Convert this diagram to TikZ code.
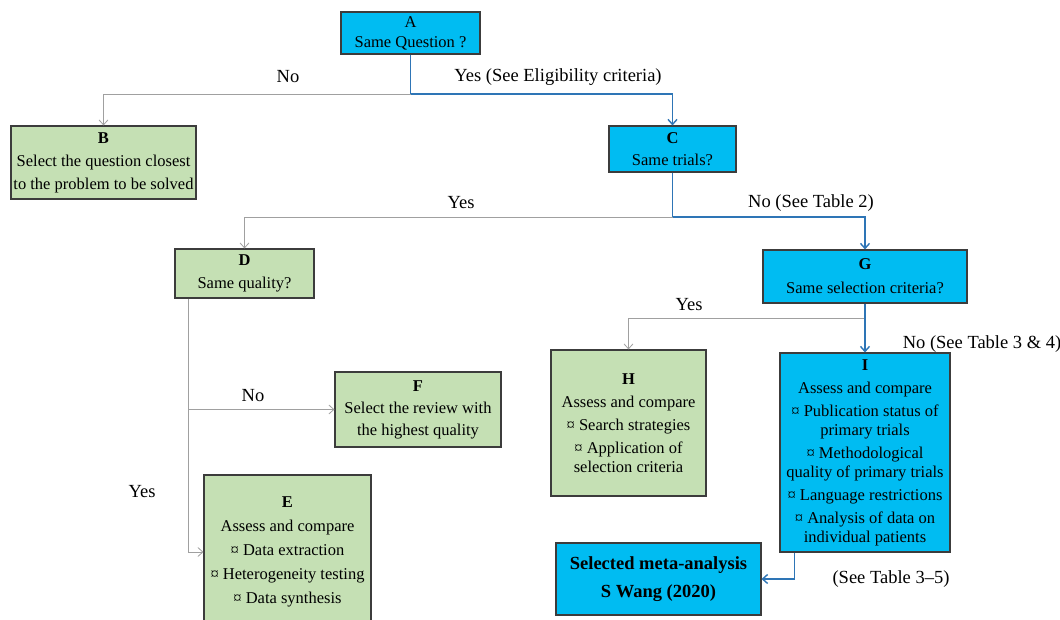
\documentclass[tikz,border=0pt]{standalone}
\usepackage{fontspec}
\setmainfont{Liberation Serif}
\usetikzlibrary{arrows.meta}
\definecolor{boxblue}{RGB}{0,188,242}
\definecolor{boxgreen}{RGB}{197,224,180}
\definecolor{lineblue}{RGB}{46,117,182}
\definecolor{linegray}{RGB}{160,160,160}
\definecolor{edgegray}{RGB}{60,60,60}
\begin{document}
\begin{tikzpicture}[x=1pt,y=-1pt,
  box/.style={draw=edgegray,line width=1.1pt,rectangle,inner sep=0pt,align=center,
    font=\fontsize{16.5}{19}\selectfont},
  bluebox/.style={box,fill=boxblue},
  greenbox/.style={box,fill=boxgreen},
  bline/.style={draw=lineblue,line width=1.7pt},
  gline/.style={draw=linegray,line width=0.9pt},
  barrow/.style={bline,-{Straight Barb[length=5pt,width=9pt,line width=1.4pt]}},
  garrow/.style={gline,-{Straight Barb[length=5pt,width=9pt,line width=0.8pt]}},
  lbl/.style={font=\fontsize{18.5}{22}\selectfont,inner sep=0pt}]
\useasboundingbox (0,0) rectangle (1060,619);
% boxes
\node[bluebox,minimum width=139pt,minimum height=42pt] (A) at (410.5,33)
  {A\\[1pt]Same Question ?};
\node[greenbox,minimum width=185pt,minimum height=73pt] (B) at (103.5,162.5)
  {\textbf{B}\\[4pt]Select the question closest\\[4pt]to the problem to be solved};
\node[bluebox,minimum width=127pt,minimum height=46pt] (C) at (672.5,149)
  {\textbf{C}\\[3pt]Same trials?};
\node[greenbox,minimum width=139pt,minimum height=49pt] (D) at (244.5,273.5)
  {\textbf{D}\\[4pt]Same quality?};
\node[bluebox,minimum width=204pt,minimum height=53pt] (G) at (865,276.5)
  {\textbf{G}\\[5pt]Same selection criteria?};
\node[greenbox,minimum width=155pt,minimum height=146pt] (H) at (628.5,423)
  {\textbf{H}\\[4pt]Assess and compare\\[4pt]¤ Search strategies\\[4pt]¤ Application of\\selection criteria};
\node[bluebox,minimum width=170pt,minimum height=199pt] (I) at (865,452.5)
  {\textbf{I}\\[4pt]Assess and compare\\[4pt]¤ Publication status of\\primary trials\\[4pt]¤ Methodological\\quality of primary trials\\[4pt]¤ Language restrictions\\[4pt]¤ Analysis of data on\\individual patients};
\node[greenbox,minimum width=166pt,minimum height=75pt] (F) at (418,409.5)
  {\textbf{F}\\[3pt]Select the review with\\[3pt]the highest quality};
\node[greenbox,minimum width=167pt,minimum height=154pt] (E) at (287.5,552)
  {\textbf{E}\\[5pt]Assess and compare\\[5pt]¤ Data extraction\\[5pt]¤ Heterogeneity testing\\[5pt]¤ Data synthesis};
\node[bluebox,minimum width=205pt,minimum height=72pt,
  font=\fontsize{18.5}{22}\selectfont\bfseries] (S) at (658.5,579)
  {Selected meta-analysis\\[6pt]S Wang (2020)};
% junctions
\coordinate (ja) at (410.5,94);
\coordinate (jc) at (672.5,217);
\coordinate (jg) at (865,318);
\coordinate (dl) at ([xshift=14pt]D.south west);
\coordinate (jd) at (dl |- F.west);
\coordinate (il) at ([xshift=15pt]I.south west);
% connectors
\draw[garrow] (ja) -| (B.north);
\draw[bline] (A.south) -- (ja);
\draw[barrow] (ja) -| (C.north);
\draw[garrow] (jc) -| (D.north);
\draw[bline] (C.south) -- (jc);
\draw[barrow] (jc) -| (G.north);
\draw[garrow] (jg) -| (H.north);
\draw[barrow] (G.south) -- (I.north);
\draw[garrow] (dl) |- (E.west);
\draw[garrow] (jd) -- (F.west);
\draw[barrow] (il) |- (S.east);
% labels
\node[lbl] (l1) at (288,77) {No};
\node[lbl] (l2) at (558,77) {Yes (See Eligibility criteria)};
\node[lbl] (l3) at (461,203) {Yes};
\node[lbl] (l4) at (811,203) {No (See Table 2)};
\node[lbl] (l5) at (689,305) {Yes};
\node[lbl] (l6) at (982,344) {No (See Table 3 \& 4)};
\node[lbl] (l7) at (253,396) {No};
\node[lbl] (l8) at (142,492) {Yes};
\node[lbl] (l9) at (891,579) {(See Table 3–5)};
\end{tikzpicture}
\end{document}
